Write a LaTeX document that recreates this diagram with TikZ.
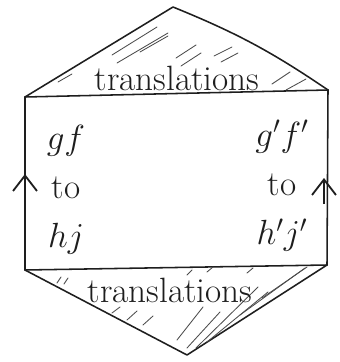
\documentclass[tikz,border=0pt]{standalone}
\usetikzlibrary{arrows.meta}
\definecolor{inkdark}{HTML}{1E1E1E}
\tikzset{
  edge/.style={draw=inkdark, line width=1.1pt, line join=round, line cap=round},
  hatch/.style={draw=inkdark!80, line width=0.6pt, line cap=round},
  word/.style={font=\fontsize{25}{29}\selectfont, text=inkdark, inner sep=0pt},
  stack/.style={word, align=center, font=\fontsize{25}{35}\selectfont},
  barb/.style={-{Straight Barb[length=11pt,width=17pt,line width=1.3pt]}, draw=inkdark, line width=1.1pt}
}

\begin{document}
\begin{tikzpicture}[x=0.025cm,y=-0.025cm]
\useasboundingbox[fill=white] (0,0) rectangle (340,362);

% ------------------------------------------------------------
% hexagon corners
% ------------------------------------------------------------
\coordinate (apexTop) at (173,7);
\coordinate (topLeft) at (25,97);
\coordinate (topRight) at (328,90);
\coordinate (botLeft) at (25,270);
\coordinate (botRight) at (327,265);
\coordinate (apexBot) at (187,355);

% outline
\draw[edge] (topLeft) -- (apexTop) to[bend left=6] (topRight);
\draw[edge] (topLeft) -- (topRight);
\draw[edge] (topLeft) -- (botLeft);
\draw[edge] (topRight) -- (botRight);
\draw[edge] (botLeft) -- (botRight);
\draw[edge] (botLeft) -- (apexBot) -- (botRight);

% ------------------------------------------------------------
% hatching (upper and lower triangles)
% ------------------------------------------------------------
\foreach \xa/\ya/\xb/\yb in {112/55/157/27, 117/63/168/33, 140/52/168/36,
    176/58/196/45, 181/66/201/53, 214/56/232/47, 221/62/238/53,
    58/82/72/74, 272/84/290/72, 286/90/306/79}
  \draw[hatch] (\xa,\ya) -- (\xb,\yb);

\foreach \xa/\ya/\xb/\yb in {57/283/61/277, 64/284/68/278,
    112/313/120/307, 127/320/137/311, 143/325/153/316,
    177/340/203/307, 187/348/220/312, 196/348/258/287,
    207/342/268/292, 240/315/305/268, 262/298/307/267,
    187/275/192/270, 207/272/213/267, 247/273/253/268}
  \draw[hatch] (\xa,\ya) -- (\xb,\yb);

% ------------------------------------------------------------
% labels
% ------------------------------------------------------------
\node[word] (transTop) at (177,78) {translations};
\node[word] (transBot) at (170,290) {translations};

\node[stack] (leftLabel) at (66,190) {$gf$\\to\\$hj$};
\node[stack] (rightLabel) at (282,186) {$g'f'$\\to\\$h'j'$};

% side arrows
\coordinate (leftTail) at (25,200);
\coordinate (leftTip) at (25,174);
\coordinate (rightTail) at (324,204);
\coordinate (rightTip) at (324,178);
\draw[barb] (leftTail) -- (leftTip);
\draw[barb] (rightTail) -- (rightTip);

\end{tikzpicture}
\end{document}
